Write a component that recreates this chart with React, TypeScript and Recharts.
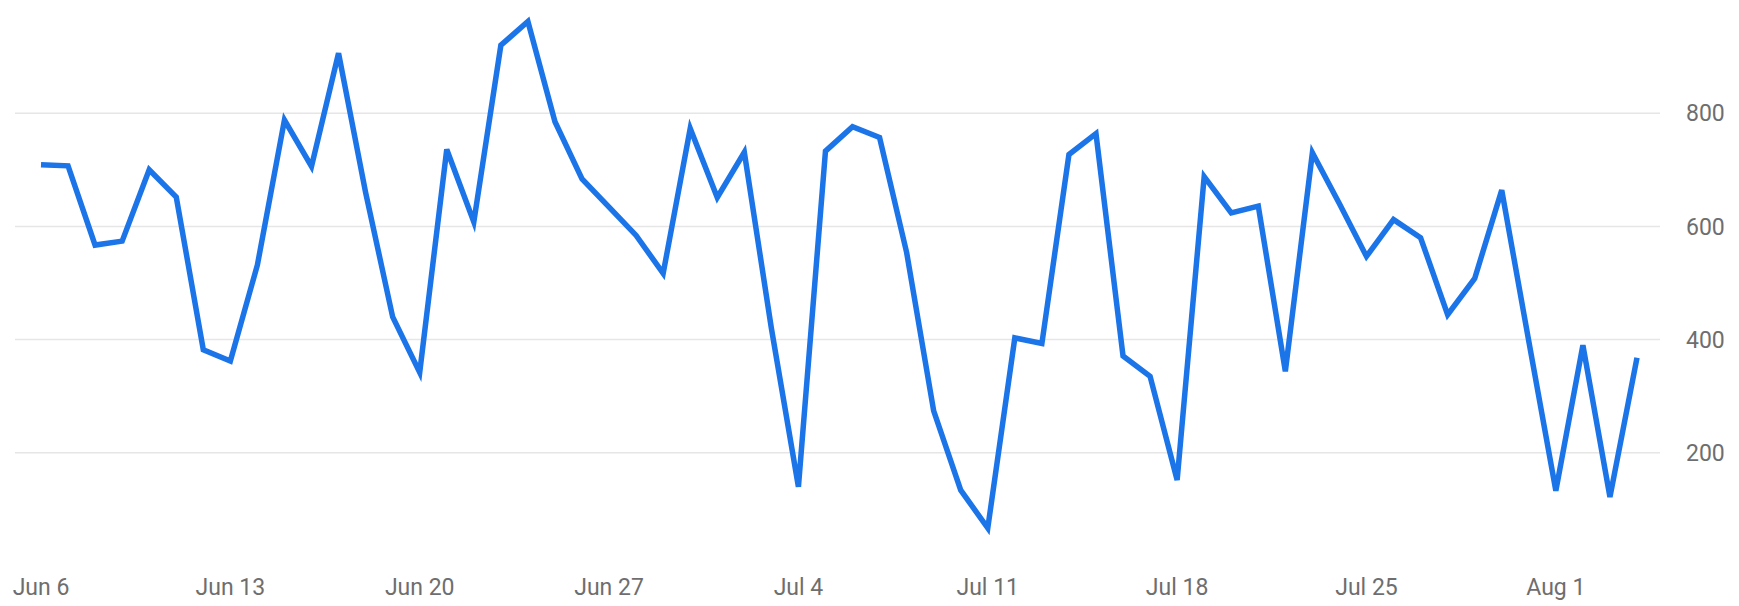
import React from "react";
import { LineChart, Line, XAxis, YAxis, ReferenceLine } from "recharts";

const dates: string[] = [
  "Jun 6", "Jun 7", "Jun 8", "Jun 9", "Jun 10", "Jun 11", "Jun 12", "Jun 13", "Jun 14", "Jun 15",
  "Jun 16", "Jun 17", "Jun 18", "Jun 19", "Jun 20", "Jun 21", "Jun 22", "Jun 23", "Jun 24", "Jun 25",
  "Jun 26", "Jun 27", "Jun 28", "Jun 29", "Jun 30", "Jul 1", "Jul 2", "Jul 3", "Jul 4", "Jul 5",
  "Jul 6", "Jul 7", "Jul 8", "Jul 9", "Jul 10", "Jul 11", "Jul 12", "Jul 13", "Jul 14", "Jul 15",
  "Jul 16", "Jul 17", "Jul 18", "Jul 19", "Jul 20", "Jul 21", "Jul 22", "Jul 23", "Jul 24", "Jul 25",
  "Jul 26", "Jul 27", "Jul 28", "Jul 29", "Jul 30", "Jul 31", "Aug 1", "Aug 2", "Aug 3", "Aug 4",
];

const values: number[] = [
  709, 707, 567, 574, 700, 652, 382, 362, 532, 788,
  706, 906, 660, 440, 342, 736, 608, 920, 962, 785,
  684, 634, 584, 517, 773, 651, 731, 420, 140, 733,
  776, 757, 554, 274, 134, 67, 403, 393, 727, 764,
  371, 335, 152, 688, 624, 636, 344, 730, 640, 547,
  612, 580, 444, 508, 664, 397, 133, 390, 122, 368,
];

const xTicks: string[] = ["Jun 6", "Jun 13", "Jun 20", "Jun 27", "Jul 4", "Jul 11", "Jul 18", "Jul 25", "Aug 1"];
const yTicks: number[] = [200, 400, 600, 800];

const data = dates.map((d, i) => ({ date: d, value: values[i] }));

const tickStyle = { fill: "#6e6e6e", fontSize: 23, fontFamily: "'Liberation Sans Narrow', Roboto, Arial, sans-serif" };

export default function App() {
  return (
    <div style={{ position: "absolute", left: 0, top: 0, background: "#fff" }}>
      <LineChart width={1739} height={606} data={data} margin={{ top: 0, right: 0, bottom: 0, left: 15 }}>
        <XAxis
          dataKey="date"
          ticks={xTicks}
          interval={0}
          axisLine={false}
          tickLine={false}
          tickSize={6}
          tickMargin={7}
          height={40}
          padding={{ left: 26, right: 23 }}
          tick={tickStyle}
        />
        <YAxis
          orientation="right"
          domain={[0, 1000]}
          ticks={yTicks}
          axisLine={false}
          tickLine={false}
          tickSize={6}
          tickMargin={20}
          width={79}
          tick={{ ...tickStyle, textAnchor: "start" }}
        />
        {yTicks.map((t) => (
          <ReferenceLine key={t} y={t} stroke="#e6e6e6" strokeWidth={1.5} />
        ))}
        <Line
          type="linear"
          dataKey="value"
          stroke="#1b74e8"
          strokeWidth={5.5}
          dot={false}
          activeDot={false}
          isAnimationActive={false}
        />
      </LineChart>
    </div>
  );
}
